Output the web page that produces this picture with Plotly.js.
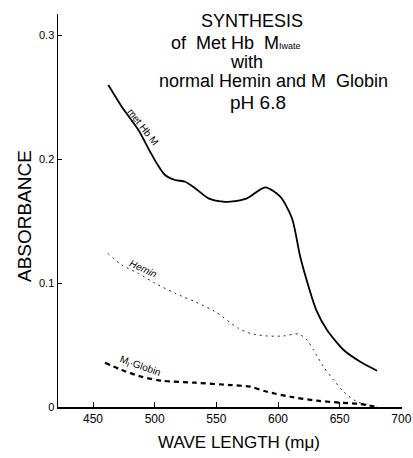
<!DOCTYPE html>
<html>
<head>
<meta charset="utf-8">
<script src="https://cdn.plot.ly/plotly-3.0.1.min.js"></script>
<style>html,body{margin:0;padding:0;background:#fff;}#chart{width:413px;height:458px;}</style>
</head>
<body>
<div id="chart"></div>
<script>
// Met Hb M (solid)
const metX = [462.4, 473.3, 486.8, 496.3, 501.7, 508.4, 516.6, 524.7, 532.8, 543.6, 555.5, 561.2, 574.8, 589.6, 601.8, 611.3, 618.0, 624.8, 631.0, 639.7, 653.2, 666.7, 680.3];
const metY = [0.2597, 0.2422, 0.2234, 0.2059, 0.1965, 0.1871, 0.1831, 0.1817, 0.1764, 0.1683, 0.1656, 0.1656, 0.1683, 0.1772, 0.1696, 0.1522, 0.1212, 0.0970, 0.0782, 0.0621, 0.0460, 0.0365, 0.0293];
// Hemin (dotted)
const heminX = [461.9, 473.3, 486.8, 500.3, 516.6, 532.8, 549.0, 567.9, 577.4, 591.0, 604.5, 616.6, 623.5, 628.8, 636.9, 645.0, 653.2, 664.0, 680.3];
const heminY = [0.1240, 0.1145, 0.1078, 0.0998, 0.0917, 0.0849, 0.0769, 0.0635, 0.0594, 0.0573, 0.0573, 0.0589, 0.0540, 0.0460, 0.0325, 0.0218, 0.0123, 0.0043, 0.0];
// M Globin (dashed)
const globinX = [459.7, 473.3, 489.5, 505.8, 532.8, 561.2, 577.4, 591.0, 609.9, 631.6, 650.5, 666.7, 680.3];
const globinY = [0.0357, 0.0298, 0.0244, 0.0212, 0.0196, 0.0177, 0.0164, 0.0123, 0.0083, 0.0051, 0.0035, 0.0024, 0.0];

const xTicks = [450, 500, 550, 600, 650, 700];
const xTickText = ["450", "500", "550", "600", "650", "700"];
const yTicks = [0, 0.1, 0.2, 0.3];
const yTickText = ["0", "0.1", "0.2", "0.3"];

const FONT = "Liberation Sans, Arial, sans-serif";

const traces = [
  {x: metX, y: metY, mode: "lines", line: {color: "#000", width: 1.8, shape: "spline", smoothing: 0.7}, hoverinfo: "skip"},
  {x: heminX, y: heminY, mode: "lines", line: {color: "#222", width: 1, dash: "2px,4px", shape: "spline", smoothing: 0.8}, hoverinfo: "skip"},
  {x: globinX, y: globinY, mode: "lines", line: {color: "#000", width: 2.2, dash: "5px,4px", shape: "spline", smoothing: 0.8}, hoverinfo: "skip"}
];

// plot area: x 58..402, y 14..407
function px(p) { return (p - 58) / 344; }
function py(p) { return (407 - p) / 393; }

const titleLines = [
  {t: "SYNTHESIS", x: 252, y: 21, s: 18},
  {t: "of  Met Hb  M<span style='font-size:9px'>Iwate</span>", x: 236, y: 43, s: 18},
  {t: "with", x: 246, y: 62, s: 18},
  {t: "normal Hemin and M  Globin", x: 273, y: 81, s: 18},
  {t: "pH 6.8", x: 258, y: 103, s: 19}
];

const annotations = titleLines.map(l => ({
  text: l.t, xref: "paper", yref: "paper", x: px(l.x), y: py(l.y),
  xanchor: "center", yanchor: "middle", showarrow: false,
  font: {family: FONT, size: l.s, color: "#000"}
}));

annotations.push(
  {text: "ABSORBANCE", xref: "paper", yref: "paper", x: px(24), y: py(216), xanchor: "center", yanchor: "middle",
   textangle: -90, showarrow: false, font: {family: FONT, size: 19, color: "#000"}},
  {text: "WAVE LENGTH (mμ)", xref: "paper", yref: "paper", x: px(239), y: py(442), xanchor: "center", yanchor: "middle",
   showarrow: false, font: {family: FONT, size: 17, color: "#000"}},
  {text: "met Hb M", xref: "paper", yref: "paper", x: px(143), y: py(126), xanchor: "center", yanchor: "middle",
   textangle: 52, showarrow: false, font: {family: FONT, size: 10, color: "#000"}},
  {text: "<i>Hemin</i>", xref: "paper", yref: "paper", x: px(143), y: py(268), xanchor: "center", yanchor: "middle",
   textangle: 25, showarrow: false, font: {family: FONT, size: 10, color: "#000"}},
  {text: "M<sub>I</sub>·Globin", xref: "paper", yref: "paper", x: px(140), y: py(366), xanchor: "center", yanchor: "middle",
   textangle: 20, showarrow: false, font: {family: FONT, size: 10, color: "#000"}}
);

const layout = {
  width: 413, height: 458,
  margin: {l: 58, r: 11, t: 14, b: 51, pad: 0},
  paper_bgcolor: "#fff", plot_bgcolor: "#fff",
  showlegend: false,
  xaxis: {
    range: [421.6, 700.5], tickvals: xTicks, ticktext: xTickText,
    ticks: "inside", ticklen: 5, tickwidth: 1, tickcolor: "#000",
    showline: true, linecolor: "#000", linewidth: 2, showgrid: false, zeroline: false,
    tickfont: {family: FONT, size: 12, color: "#000"}, fixedrange: true
  },
  yaxis: {
    range: [0, 0.317], tickvals: yTicks, ticktext: yTickText,
    ticks: "inside", ticklen: 4, tickwidth: 1, tickcolor: "#000",
    showline: true, linecolor: "#000", linewidth: 1.5, showgrid: false, zeroline: false,
    tickfont: {family: FONT, size: 11, color: "#000"}, fixedrange: true
  },
  annotations: annotations
};

Plotly.newPlot("chart", traces, layout, {staticPlot: true, displayModeBar: false});
</script>
</body>
</html>
